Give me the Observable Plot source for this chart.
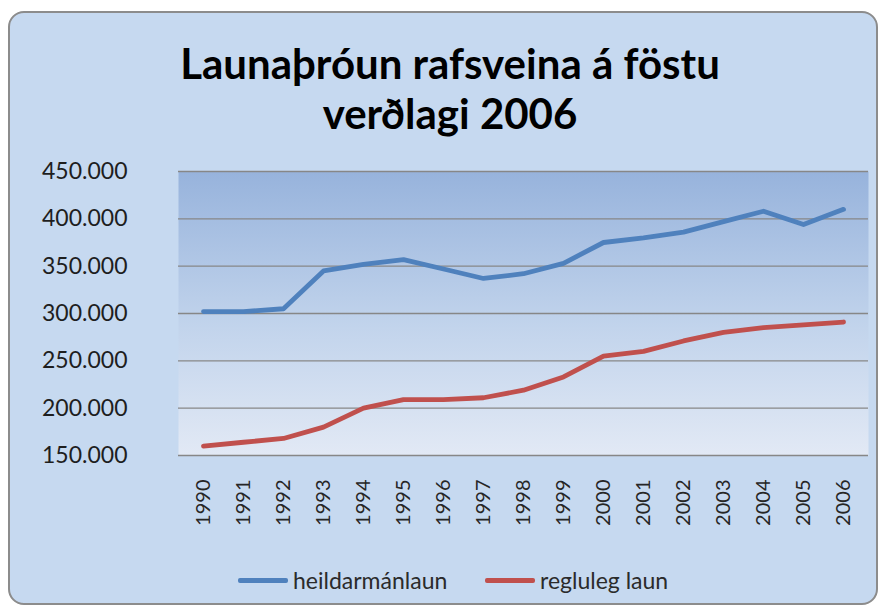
<!DOCTYPE html>
<html>
<head>
<meta charset="utf-8">
<script src="https://cdn.jsdelivr.net/npm/d3@7"></script>
<script src="https://cdn.jsdelivr.net/npm/@observablehq/plot@0.6"></script>
<style>
  body { margin: 0; background: #ffffff; }
  #wrap { position: relative; width: 880px; height: 608px; overflow: hidden; background: #ffffff; }
  #panel { position: absolute; left: 8px; top: 11px; width: 870px; height: 594px; box-sizing: border-box;
           border: 2px solid #8c8c8c; border-radius: 16px; background: #c6d9f0; }
  #title { position: absolute; left: 0; top: 38px; width: 900px; text-align: center;
           font-family: Lato, sans-serif; font-weight: bold; font-size: 42px; line-height: 50px; color: #000; }
  #chart { position: absolute; left: 0; top: 150px; }
  .leg { position: absolute; top: 566px; height: 28px; display: flex; align-items: center;
         font-family: Lato, sans-serif; font-size: 23px; color: #2b2b2b; }
  .sw { display: inline-block; width: 50px; height: 5px; margin-right: 5px; border-radius: 2px; }
</style>
</head>
<body>
<div id="wrap">
  <div id="panel"></div>
  <div id="title">Launaþróun rafsveina á föstu<br>verðlagi 2006</div>
  <div id="chart"></div>
  <div id="legend"></div>
</div>
<script>
const years = ["1990","1991","1992","1993","1994","1995","1996","1997","1998","1999","2000","2001","2002","2003","2004","2005","2006"];
const heildarmanlaun = [302000,302000,305000,345000,352000,357000,347000,337000,342000,353000,375000,380000,386000,397000,408000,394000,410000];
const reglulegLaun = [160000,164000,168000,180000,200000,209000,209000,211000,219000,233000,255000,260000,271000,280000,285000,288000,291000];
const yTicks = [150000,200000,250000,300000,350000,400000,450000];
const seriesNames = ["heildarmánlaun","regluleg laun"];
const seriesColors = ["#4f81bd","#c0504d"];

const rows = [];
years.forEach((y, i) => {
  rows.push({year: y, value: heildarmanlaun[i], series: seriesNames[0]});
  rows.push({year: y, value: reglulegLaun[i], series: seriesNames[1]});
});

const fmt = d => d3.format(",")(d).replace(/,/g, ".");

const svg = Plot.plot({
  width: 880,
  height: 400,
  marginLeft: 178,
  marginRight: 12,
  marginTop: 21,
  marginBottom: 95,
  style: {background: "transparent", fontFamily: "Lato, sans-serif", color: "#222"},
  x: {type: "point", domain: years, padding: 0.5, label: null},
  y: {domain: [150000, 450000], label: null},
  color: {domain: seriesNames, range: seriesColors},
  marks: [
    Plot.frame({fill: "url(#plotgrad)", stroke: null}),
    Plot.ruleY(yTicks, {stroke: "#878787", strokeWidth: 1.3}),
    Plot.axisY({ticks: yTicks, tickSize: 0, tickPadding: 51, tickFormat: fmt, fontSize: 23, fill: "#1e1e1e", label: null}),
    Plot.axisX({tickSize: 0, tickPadding: 24, tickRotate: -90, fontSize: 20, fill: "#262626", label: null}),
    Plot.lineY(rows, {x: "year", y: "value", z: "series", stroke: "series", strokeWidth: 4.8, strokeLinejoin: "round"})
  ]
});

const ns = "http://www.w3.org/2000/svg";
const defs = document.createElementNS(ns, "defs");
const grad = document.createElementNS(ns, "linearGradient");
grad.setAttribute("id", "plotgrad");
grad.setAttribute("x1", "0"); grad.setAttribute("y1", "0");
grad.setAttribute("x2", "0"); grad.setAttribute("y2", "1");
[["0", "#97b3dc"], ["0.55", "#c2d4ec"], ["1", "#e2e9f5"]].forEach(([o, c]) => {
  const s = document.createElementNS(ns, "stop");
  s.setAttribute("offset", o); s.setAttribute("stop-color", c);
  grad.appendChild(s);
});
defs.appendChild(grad);
svg.insertBefore(defs, svg.firstChild);
document.getElementById("chart").appendChild(svg);

const legend = document.getElementById("legend");
const legLeft = [238, 485];
seriesNames.forEach((name, i) => {
  const item = document.createElement("div");
  item.className = "leg";
  item.style.left = legLeft[i] + "px";
  const sw = document.createElement("span");
  sw.className = "sw";
  sw.style.background = seriesColors[i];
  const t = document.createElement("span");
  t.textContent = name;
  item.appendChild(sw); item.appendChild(t);
  legend.appendChild(item);
});
</script>
</body>
</html>
